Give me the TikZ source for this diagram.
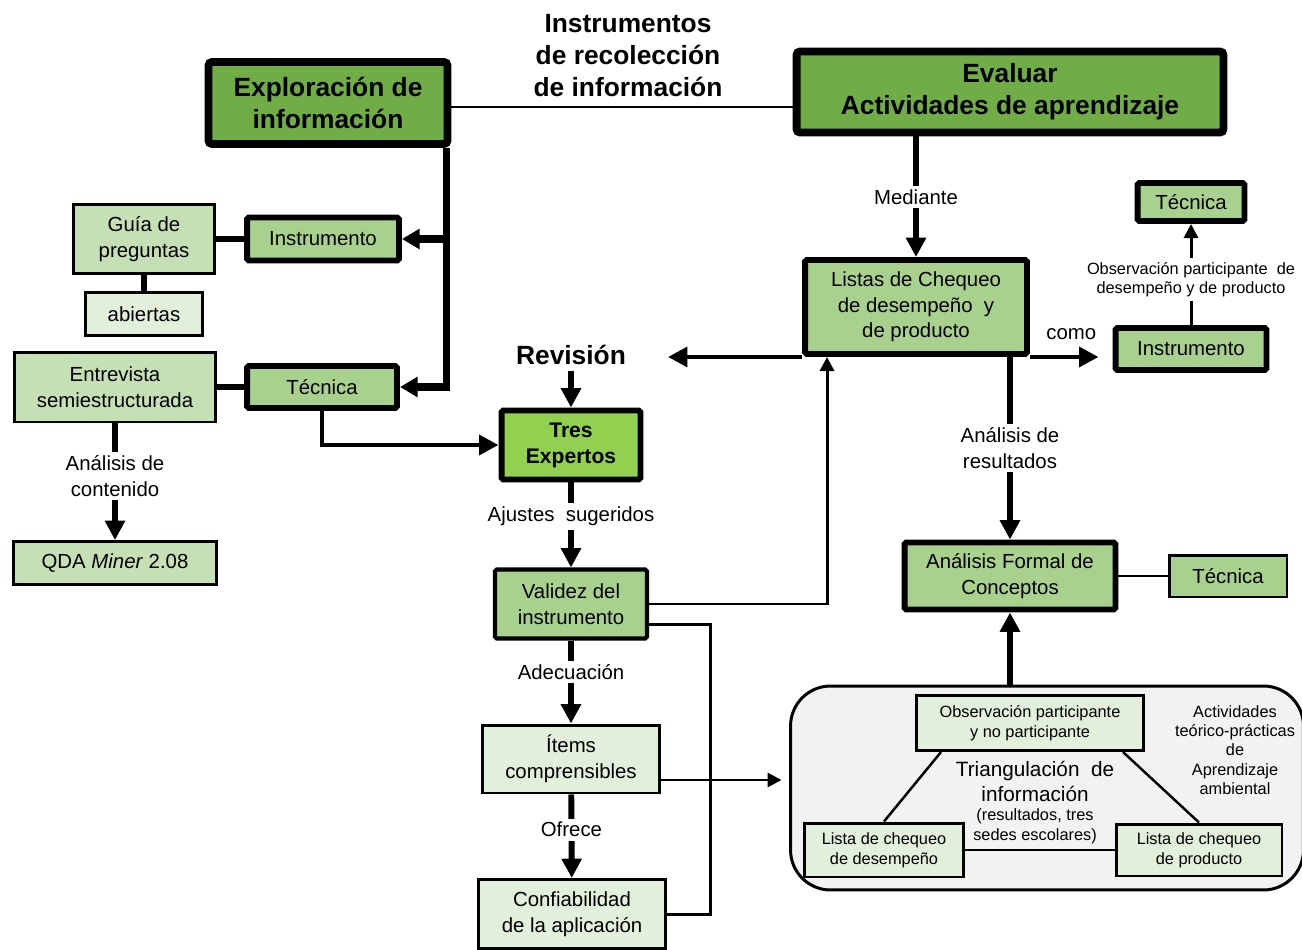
\documentclass[tikz,border=0pt]{standalone}
\usepackage{fontspec}
\setmainfont{Liberation Sans}
\usepackage{tikz}
\usetikzlibrary{arrows.meta,positioning}
\definecolor{hdgreen}{HTML}{70AD47}
\definecolor{midgreen}{HTML}{A9D18E}
\definecolor{lgtgreen}{HTML}{C5E0B4}
\definecolor{palegreen}{HTML}{E2EFDA}
\definecolor{brightgreen}{HTML}{92D050}
\definecolor{panelgray}{HTML}{F2F2F2}
\newcommand{\normtxt}{\fontsize{11.6}{14.6}\selectfont}
\newcommand{\smalltxt}{\fontsize{9.3}{11.2}\selectfont}
\newcommand{\midtxt}{\fontsize{11.8}{14.2}\selectfont}
\newcommand{\bigtxt}{\fontsize{15}{18.2}\selectfont\bfseries}
\tikzset{
  header/.style={draw, line width=4.5pt, rounded corners=2pt, fill=hdgreen, align=center, font=\bigtxt, inner sep=0pt},
  title/.style={align=center, font=\bigtxt},
  key/.style={draw, line width=3.4pt, rounded corners=1pt, fill=midgreen, align=center, font=\normtxt, inner sep=0pt},
  plain/.style={draw, line width=1.7pt, fill=lgtgreen, align=center, font=\normtxt, inner sep=0pt},
  pale/.style={draw, line width=1.7pt, fill=palegreen, align=center, font=\normtxt, inner sep=0pt},
  smallbox/.style={draw, line width=1.7pt, fill=palegreen, align=center, font=\smalltxt, inner sep=0pt},
  panel/.style={draw, line width=1.7pt, rounded corners=0.8cm, fill=panelgray},
  lbl/.style={fill=white, font=\normtxt, align=center, inner sep=2pt},
  conn/.style={line width=3.8pt},
  thinline/.style={line width=1.7pt},
  triline/.style={line width=1.4pt},
  arrow/.style={-{Triangle[length=11pt,width=11pt]}, line width=3.4pt},
  arrowL/.style={-{Triangle[length=10pt,width=11pt]}, line width=4pt},
  arrowW/.style={-{Triangle[length=11pt,width=11pt]}, line width=2.8pt},
  thinarrow/.style={-{Triangle[length=8pt,width=8pt]}, line width=1.7pt}
}

\begin{document}
\begin{tikzpicture}[x=0.02cm,y=-0.02cm]
  \useasboundingbox (0,0) rectangle (1302,950);
  % cabeceras
  \node[header, minimum width=4.78cm, minimum height=1.64cm] (explor) at (328,103) {Exploración de\\información};
  \node[header, minimum width=8.54cm, minimum height=1.62cm] (evaluar) at (1010,92) {Evaluar\\Actividades de aprendizaje};
  \node[title] (recol) at (628,56) {Instrumentos\\de recolección\\de información};
  \draw[thinline] ([yshift=-0.08cm]explor.east) -- ([yshift=-0.08cm]explor.east -| evaluar.west);
  % rama izquierda
  \node[key, minimum width=3.04cm, minimum height=0.86cm] (instrL) at (323,239) {Instrumento};
  \node[key, minimum width=3.0cm, minimum height=0.84cm] (tecL) at (322,387) {Técnica};
  \node[plain, minimum width=2.82cm, minimum height=1.38cm] (guia) at (144,239) {Guía de\\preguntas};
  \node[pale, minimum width=2.34cm, minimum height=0.86cm] (abiertas) at (144,314) {abiertas};
  \node[plain, minimum width=4.04cm, minimum height=1.4cm] (entrev) at (115,387) {Entrevista\\semiestructurada};
  \node[plain, minimum width=4.06cm, minimum height=0.86cm] (qda) at (115,563) {QDA \textit{Miner} 2.08};
  % columna central
  \node[title] (revision) at (571,355) {Revisión};
  \node[key, fill=brightgreen, font=\fontsize{12}{14.8}\selectfont\bfseries, minimum width=2.78cm, minimum height=1.38cm] (tres) at (571,445) {Tres\\Expertos};
  \node[key, line width=2.3pt, minimum width=3.04cm, minimum height=1.38cm] (validez) at (571,604) {Validez del\\instrumento};
  \node[pale, minimum width=3.56cm, minimum height=1.36cm] (items) at (571,759) {Ítems\\comprensibles};
  \node[pale, minimum width=3.74cm, minimum height=1.38cm] (confiab) at (572,914) {Confiabilidad\\de la aplicación};
  % columna derecha
  \node[key, minimum width=4.44cm, minimum height=1.88cm] (listas) at (916,307) {Listas de Chequeo\\de desempeño\ \ y\\de producto};
  \node[key, minimum width=3.02cm, minimum height=0.84cm] (instrR) at (1191,349) {Instrumento};
  \node[key, minimum width=2.14cm, minimum height=0.76cm] (tecTR) at (1191,202) {Técnica};
  \node[key, minimum width=4.22cm, minimum height=1.34cm] (afc) at (1010,576) {Análisis Formal de\\Conceptos};
  \node[plain, fill=midgreen, minimum width=2.36cm, minimum height=0.84cm] (tecMR) at (1228,576) {Técnica};
  \coordinate (revtip) at (668,355);
  % triangulacion
  \node[panel, minimum width=10.26cm, minimum height=4.08cm] (tribox) at (1047,788) {};
  \node[smallbox, minimum width=4.54cm, minimum height=1.1cm] (obs) at (1030,723) {Observación participante\\y no participante};
  \node[smallbox, minimum width=3.18cm, minimum height=1.08cm] (listaD) at (884,850) {Lista de chequeo\\de desempeño};
  \node[smallbox, minimum width=3.32cm, minimum height=1.04cm] (listaP) at (1199,850) {Lista de chequeo\\de producto};
  \node[font=\midtxt, align=center] (triang) at (1035,781) {Triangulación\ \ de\\información};
  \node[font=\smalltxt, align=center] (sedes) at (1035,826) {(resultados, tres\\sedes escolares)};
  \node[font=\fontsize{9.3}{11}\selectfont, align=center] (activ) at (1235,750) {Actividades\\teórico-prácticas\\de\\Aprendizaje\\ambiental};
  \draw[triline] ([xshift=0.52cm]obs.south west) -- (listaD.north);
  \draw[triline] ([xshift=-0.44cm]obs.south east) -- (listaP.north);
  \draw[triline] (listaD) -- (listaP);
  % conectores
  \coordinate (trunk) at ([xshift=-0.1cm]explor.south east);
  \draw[arrowL] (trunk) |- (tecL.east);
  \draw[arrowL] (trunk |- instrL.east) -- (instrL.east);
  \draw[conn] (guia) -- (instrL);
  \draw[conn] (guia) -- (abiertas);
  \draw[conn] (entrev) -- (tecL);
  \draw[arrow] (entrev) -- node[lbl, pos=0.45]{Análisis de\\contenido} (qda);
  \draw[arrowW] (tecL.south) |- (tres.west);
  \draw[arrow] (revision) -- (tres);
  \draw[arrow] (tres) -- node[lbl, pos=0.4]{Ajustes\ \ sugeridos} (validez);
  \draw[arrow] (validez) -- node[lbl, pos=0.38]{Adecuación} (items);
  \draw[arrow] (items) -- node[lbl, pos=0.42]{Ofrece} (confiab);
  \draw[thinarrow] (validez.east) -| ([xshift=0.5cm]listas.south west);
  \draw[thinline] ([yshift=0.32cm]validez.south east) -- ++(61,0) |- (confiab.east);
  \draw[thinarrow, shorten >=0.15cm] ([yshift=-0.42cm]items.east) -- ([yshift=-0.42cm]items.east -| tribox.west);
  \draw[arrow] (listas |- evaluar.south) -- node[lbl]{Mediante} (listas.north);
  \draw[arrowW] (listas.south west) -- (listas.south west -| revtip);
  \draw[arrowW, shorten >=0.28cm] (listas.south east) -- node[above=5pt, font=\normtxt]{como} (listas.south east -| instrR.west);
  \draw[thinarrow] (instrR.north) -- node[lbl, font=\smalltxt, pos=0.45]{Observación participante\ \ de\\desempeño y de producto} (tecTR.south);
  \draw[arrow] (afc |- listas.south) -- node[lbl]{Análisis de\\resultados} (afc.north);
  \draw[line width=1.2pt] (afc.east) -- (tecMR.west);
  \draw[arrow] (afc |- tribox.north) -- (afc.south);
\end{tikzpicture}
\end{document}
